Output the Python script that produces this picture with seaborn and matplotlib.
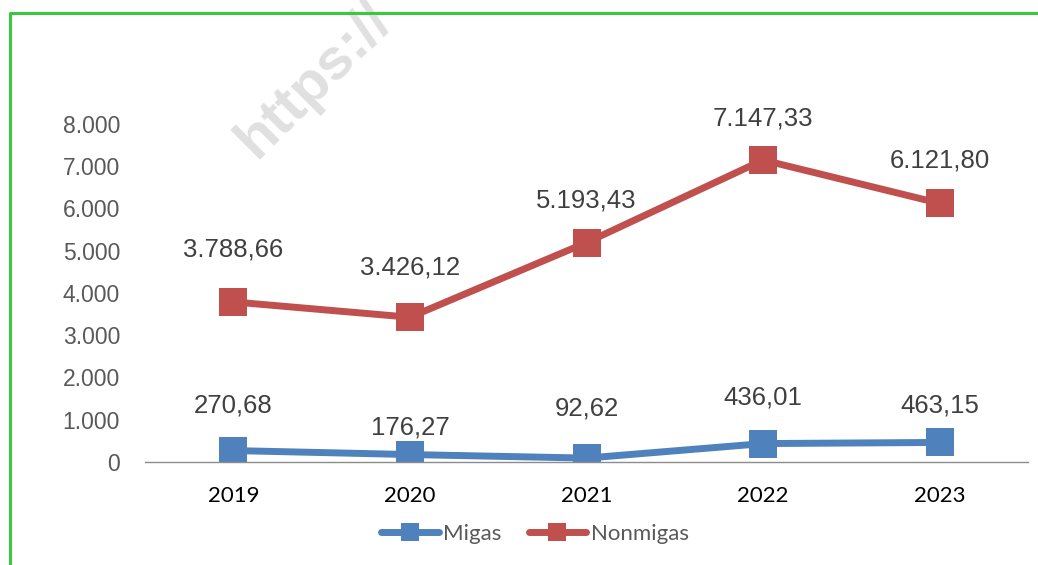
import numpy as np
import pandas as pd
import seaborn as sns
import matplotlib.pyplot as plt
from matplotlib.lines import Line2D
from matplotlib.ticker import FuncFormatter, FixedLocator

# Data
tahun = ['2019', '2020', '2021', '2022', '2023']
migas = [270.68, 176.27, 92.62, 436.01, 463.15]
nonmigas = [3788.66, 3426.12, 5193.43, 7147.33, 6121.80]

# jarak label data di atas titik (pixel)
off_migas = [45, 27, 50, 46, 37]
off_nonmigas = [52, 50, 42, 42, 43]

df = pd.DataFrame({
    'Tahun': tahun * 2,
    'Nilai': migas + nonmigas,
    'Seri': ['Migas'] * 5 + ['Nonmigas'] * 5,
})

warna = {'Migas': '#4F81BD', 'Nonmigas': '#C0504D'}

sns.set_style('white')
plt.rcParams['font.family'] = ['Liberation Sans', 'DejaVu Sans']

W, H = 1038, 565
fig = plt.figure(figsize=(W / 100, H / 100), dpi=100)
ax = fig.add_axes([145 / W, 1 - 462 / H, (1028 - 145) / W, (462 - 124) / H])

# watermark
fig.text(256 / W, 1 - 160 / H, 'https://', rotation=45, rotation_mode='anchor',
         ha='left', va='baseline', fontsize=42, fontweight='bold', color='#e0e0e0',
         zorder=0)

sns.lineplot(data=df, x='Tahun', y='Nilai', hue='Seri', style='Seri',
             markers={'Migas': 's', 'Nonmigas': 's'}, dashes=False,
             palette=warna, linewidth=5, markersize=20, markeredgewidth=0,
             legend=False, ax=ax)
ax.patch.set_alpha(0)

ax.set_xlim(-0.5, 4.5)
ax.set_ylim(0, 8000)
ax.set_yticks(range(0, 8001, 1000))
ax.yaxis.set_major_formatter(FuncFormatter(lambda v, p: f'{v:,.0f}'.replace(',', '.')))
ax.tick_params(axis='y', length=0, pad=18, labelsize=16.5, labelcolor='#595959')
ax.tick_params(axis='x', which='major', length=0, pad=17, labelsize=16, labelcolor='black')
for lab in ax.get_xticklabels():
    lab.set_fontfamily(['Lato', 'DejaVu Sans'])
ax.xaxis.set_minor_locator(FixedLocator(np.arange(-0.5, 5, 1)))
ax.tick_params(axis='x', which='minor', length=6, width=1, color='#8c8c8c', direction='out')
ax.set_xlabel('')
ax.set_ylabel('')
for s in ['top', 'right', 'left']:
    ax.spines[s].set_visible(False)
ax.spines['bottom'].set_color('#8c8c8c')
ax.spines['bottom'].set_linewidth(1)

def fmt(v):
    s = f'{v:,.2f}'
    return s.replace(',', 'X').replace('.', ',').replace('X', '.')

for vals, offs in [(migas, off_migas), (nonmigas, off_nonmigas)]:
    for i, (v, o) in enumerate(zip(vals, offs)):
        ax.annotate(fmt(v), (i, v), xytext=(0, o * 0.72), textcoords='offset points',
                    ha='center', va='center', fontsize=18.5, color='#404040',
                    annotation_clip=False)

handles = [Line2D([], [], color=warna[k], lw=5, marker='s', markersize=13,
                  markeredgewidth=0) for k in ['Migas', 'Nonmigas']]
fig.legend(handles, ['Migas', 'Nonmigas'], loc='center', bbox_to_anchor=(535 / W, 1 - 534 / H),
           ncol=2, frameon=False, handlelength=2.6, handletextpad=0.2, columnspacing=1.2,
           prop={'family': ['Lato', 'DejaVu Sans'], 'size': 16}, labelcolor='#595959')

# green frame
fig.add_artist(Line2D([10 / W, 10 / W, 1.01], [-0.01, 1 - 13 / H, 1 - 13 / H],
                      transform=fig.transFigure, color='#3cc83c', lw=2.2))

fig.savefig('out.png', dpi=100)
